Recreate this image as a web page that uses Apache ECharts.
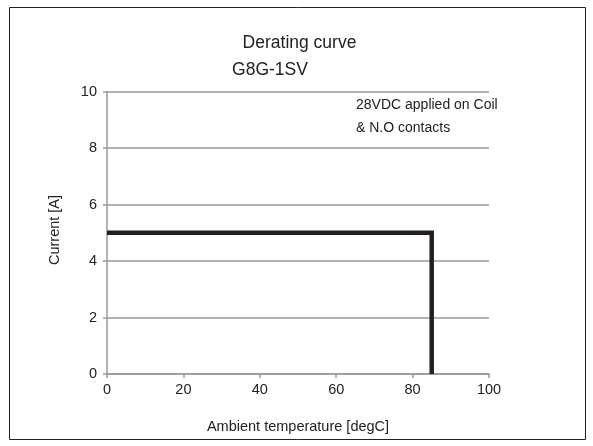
<!DOCTYPE html>
<html><head><meta charset="utf-8">
<script src="https://cdn.jsdelivr.net/npm/echarts@6/dist/echarts.min.js"></script>
<style>html,body{margin:0;padding:0;background:#fff}#c{width:593px;height:446px}</style>
</head><body><div id="c"></div>
<script>
const temperature = [0, 85, 85];
const current = [5, 5, 0];
const xTicks = [0, 20, 40, 60, 80, 100];
const yTicks = [0, 2, 4, 6, 8, 10];
const titleText = 'Derating curve';
const subtitleText = 'G8G-1SV';
const xName = 'Ambient temperature [degC]';
const yName = 'Current [A]';
const noteLines = ['28VDC applied on Coil', '& N.O contacts'];

const font = 'Liberation Sans, Arial, sans-serif';
const fs = 14.5;
const chart = echarts.init(document.getElementById('c'), null, {renderer: 'canvas'});
chart.setOption({
  animation: false,
  backgroundColor: '#fff',
  grid: {left: 107, right: 104, top: 91.5, bottom: 72},
  graphic: [
    {type: 'rect', shape: {x: 9.5, y: 7.5, width: 576, height: 432}, style: {fill: 'none', stroke: '#222', lineWidth: 1}},
    {type: 'text', x: 299.5, y: 43.5, style: {text: titleText, align: 'center', verticalAlign: 'middle', fontFamily: font, fontSize: 17.5, fill: '#222'}},
    {type: 'text', x: 270, y: 70.5, style: {text: subtitleText, align: 'center', verticalAlign: 'middle', fontFamily: font, fontSize: 17.5, fill: '#222'}},
    {type: 'text', left: 356, top: 93.5, style: {text: noteLines.join('\n'), lineHeight: 23, fontFamily: font, fontSize: 14, fill: '#222'}},
    {type: 'text', x: 55, y: 230, rotation: Math.PI / 2,
     style: {text: yName, align: 'center', verticalAlign: 'middle', fontFamily: font, fontSize: fs, fill: '#222'}}
  ],
  xAxis: {
    type: 'value', min: xTicks[0], max: xTicks[xTicks.length - 1], interval: 20,
    name: xName, nameLocation: 'middle', nameGap: 45,
    nameTextStyle: {fontFamily: font, fontSize: fs, color: '#222'},
    axisLine: {show: true, lineStyle: {color: '#999', width: 1.5}},
    axisTick: {show: true, length: 4, lineStyle: {color: '#999', width: 1.5}},
    axisLabel: {fontFamily: font, fontSize: fs, color: '#222', margin: 8},
    splitLine: {show: false}
  },
  yAxis: {
    type: 'value', min: yTicks[0], max: yTicks[yTicks.length - 1], interval: 2,
    axisLine: {show: true, lineStyle: {color: '#999', width: 1.5}},
    axisTick: {show: true, length: 4, lineStyle: {color: '#999', width: 1.5}},
    axisLabel: {fontFamily: font, fontSize: fs, color: '#222', margin: 10},
    splitLine: {show: true, lineStyle: {color: '#999', width: 1.5}}
  },
  series: [{
    type: 'line', data: temperature.map((t, i) => [t, current[i]]),
    symbol: 'none', lineStyle: {color: '#231f20', width: 4.5, join: 'miter', cap: 'butt'}
  }]
});
</script></body></html>
